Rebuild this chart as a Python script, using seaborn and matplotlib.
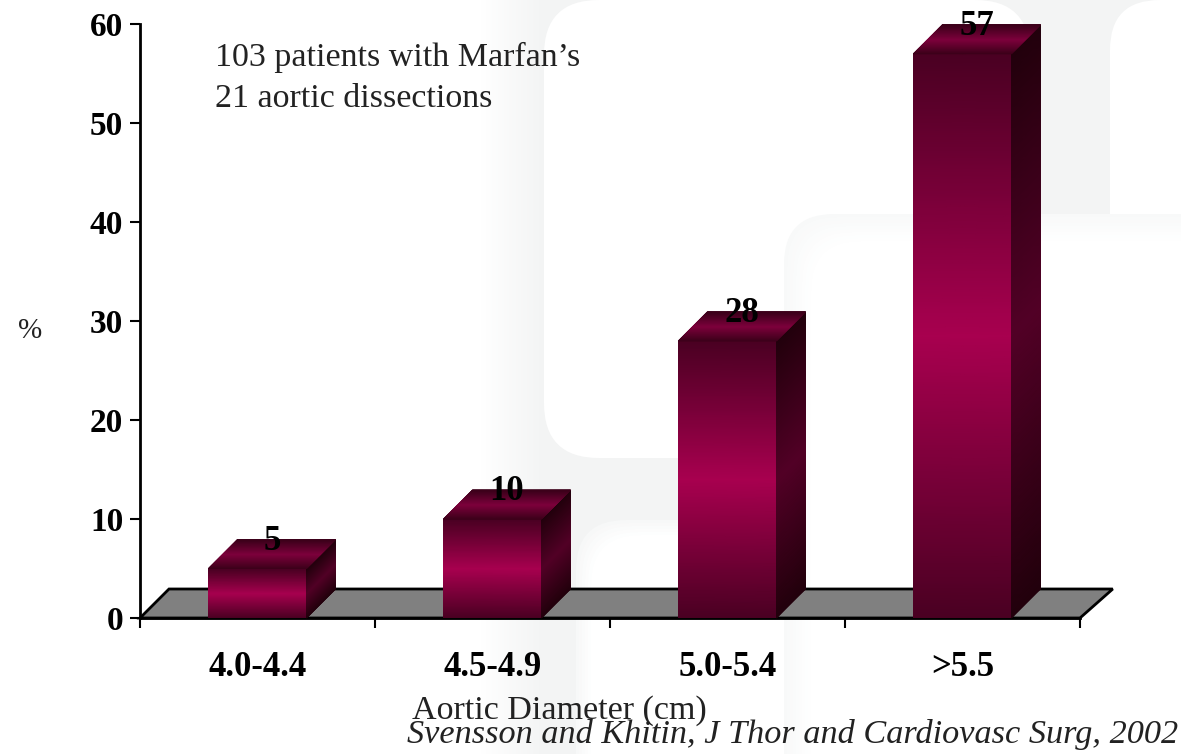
import numpy as np
import pandas as pd
import matplotlib
matplotlib.use("Agg")
import matplotlib.pyplot as plt
from matplotlib.colors import LinearSegmentedColormap, to_rgb
from matplotlib.patches import FancyBboxPatch, Polygon, Rectangle
from matplotlib.ticker import FixedLocator
import seaborn as sns

# values
categories = ["4.0-4.4", "4.5-4.9", "5.0-5.4", ">5.5"]
percent = [5, 10, 28, 57]
y_ticks = [0, 10, 20, 30, 40, 50, 60]

sns.set_theme(style="white")
plt.rcParams["font.family"] = ["Liberation Serif", "DejaVu Serif"]

W, H = 1181, 754
fig = plt.figure(figsize=(W / 100, H / 100), dpi=100)
rect = [140 / W, (H - 618) / H, 940 / W, 594 / H]


def soft_box(axis, x0, y0, x1, y1, edge, steps=10, inset=3, radius=50):
    # nested rounded boxes, going from edge colour to white
    e = np.array(to_rgb(edge))
    for k in range(steps):
        col = e + (1 - e) * k / (steps - 1)
        axis.add_patch(FancyBboxPatch((x0 + k * inset, y0 + k * inset), x1 - x0 - k * inset, y1 - y0 - k * inset,
                                      boxstyle=f"round,pad=0,rounding_size={radius}", color=col, lw=0))


# faint watermark behind the chart, in pixel coordinates
bg = fig.add_axes([0, 0, 1, 1], zorder=-1)
grey = "#f3f4f4"
fade = LinearSegmentedColormap.from_list("fade", ["#ffffff", grey])
bg.imshow(np.linspace(0, 1, 60)[None, :], extent=[480, 545, 754, 0], cmap=fade, aspect="auto")
bg.add_patch(Rectangle((544, 0), 640, 754, color=grey, lw=0))
bg.add_patch(FancyBboxPatch((544, 0), 486, 458, boxstyle="round,pad=0,rounding_size=55", color="white", lw=0))
bg.add_patch(FancyBboxPatch((1110, 0), 200, 300, boxstyle="round,pad=0,rounding_size=50", color="white", lw=0))
soft_box(bg, 576, 520, 900, 900, "#f7f8f8", steps=6)
soft_box(bg, 784, 214, 1400, 900, "#f8f9f9")
bg.set_xlim(0, W)
bg.set_ylim(H, 0)
bg.axis("off")

ax = fig.add_axes(rect)
ax.patch.set_alpha(0)

df = pd.DataFrame({"diameter": categories, "percent": percent})
sns.barplot(data=df, x="diameter", y="percent", width=98 / 235, color="#7a0038", saturation=1, ax=ax)

ax.set_xlim(-0.5, 3.5)
ax.set_ylim(0, 60)
ax.set_xlabel("")
ax.set_ylabel("")
ax.set_yticks(y_ticks)

sns.despine(ax=ax)
for side in ["left", "bottom"]:
    ax.spines[side].set_linewidth(2)
    ax.spines[side].set_color("black")

# ticks sit between the categories, labels under the bars
ax.xaxis.set_minor_locator(FixedLocator(np.arange(-0.5, 4, 1)))
ax.tick_params(axis="x", which="major", length=0, pad=24, labelsize=25, labelcolor="black")
ax.tick_params(axis="x", which="minor", length=7, width=1.5, color="black", bottom=True)
ax.tick_params(axis="y", length=7, width=1.5, color="black", left=True, labelsize=24, pad=5, labelcolor="black")
for lab in ax.get_xticklabels() + ax.get_yticklabels():
    lab.set_fontweight("bold")

# numeric overlay for the fake 3d faces (the seaborn axis has category units)
over = fig.add_axes(rect)
over.axis("off")

# depth of the fake 3d, same size in both directions on screen
dx = 29 / 235
dy = 29 / 9.9

front_cmap = LinearSegmentedColormap.from_list("front", ["#4a0022", "#a8004f", "#4a0022"])
top_cmap = LinearSegmentedColormap.from_list("top", ["#3c001a", "#7e003c", "#3c001a"])
side_cmap = LinearSegmentedColormap.from_list("side", ["#22000c", "#520026", "#22000c"])

# floor
over.add_patch(Polygon([(-0.5, 0), (-0.5 + dx, dy), (3.5 + 1.13 * dx, dy), (3.5, 0)], closed=True,
                       facecolor="#808080", edgecolor="black", lw=2, clip_on=False, zorder=1))

t = np.linspace(0, 1, 81)
c = np.tile(t, (2, 1)).T
for bar in ax.patches[:len(categories)]:
    x0, x1 = bar.get_x(), bar.get_x() + bar.get_width()
    h = bar.get_height()
    # front face
    X = np.column_stack([np.full_like(t, x0), np.full_like(t, x1)])
    Y = np.column_stack([t * h, t * h])
    over.pcolormesh(X, Y, c, shading="gouraud", cmap=front_cmap, zorder=4)
    # side face, follows the depth skew
    X = np.column_stack([np.full_like(t, x1), np.full_like(t, x1 + dx)])
    Y = np.column_stack([t * h, t * h + dy])
    over.pcolormesh(X, Y, c, shading="gouraud", cmap=side_cmap, zorder=4, clip_on=False)
    # top face
    X = np.column_stack([x0 + t * dx, x1 + t * dx])
    Y = np.column_stack([h + t * dy, h + t * dy])
    over.pcolormesh(X, Y, c, shading="gouraud", cmap=top_cmap, zorder=4, clip_on=False)

over.set_xlim(-0.5, 3.5)
over.set_ylim(0, 60)

for i, v in enumerate(percent):
    over.annotate(str(v), (i + dx / 2, v), xytext=(0, 27), textcoords="offset pixels", ha="center", va="center",
                  fontsize=25, fontweight="bold", color="black", zorder=6, annotation_clip=False)

fig.text(30 / W, 1 - 331 / H, "%", fontsize=21, ha="center", va="center", color="#222222")
fig.text(215 / W, 1 - 57 / H, "103 patients with Marfan\u2019s", fontsize=24.5, ha="left", va="center", color="#222222")
fig.text(215 / W, 1 - 99 / H, "21 aortic dissections", fontsize=24.5, ha="left", va="center", color="#222222")
fig.text(559 / W, 1 - 711 / H, "Aortic Diameter (cm)", fontsize=24.5, ha="center", va="center", color="#222222")
fig.text(1178 / W, 1 - 735 / H, "Svensson and Khitin, J Thor and Cardiovasc Surg, 2002", fontsize=24.7,
         style="italic", ha="right", va="center", color="#222222")

fig.savefig("out.png", dpi=100)
